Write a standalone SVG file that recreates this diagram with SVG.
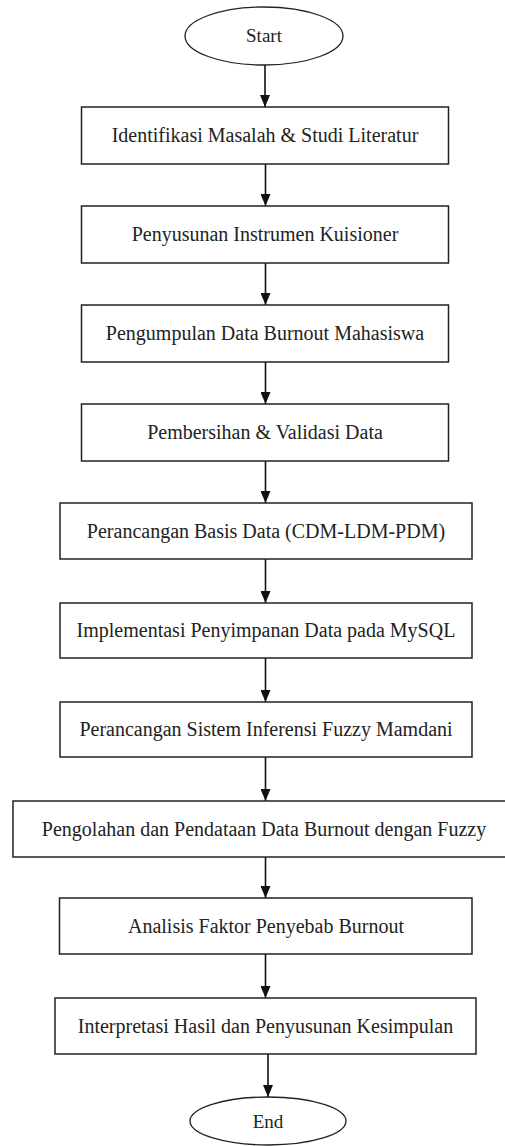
<svg xmlns="http://www.w3.org/2000/svg" width="505" height="1146" viewBox="0 0 505 1146">
<defs>
<style>
.box{fill:#fff;stroke:#222;stroke-width:1.5}
.term{fill:#fff;stroke:#222;stroke-width:1.3}
.lbl{font-family:"Liberation Serif","Times New Roman",serif;font-size:20px;fill:#222;text-anchor:middle}
.edge{stroke:#111;stroke-width:1.6;fill:none;marker-end:url(#arr)}
</style>
<marker id="arr" viewBox="0 0 12 10" refX="12" refY="5" markerWidth="12" markerHeight="10" markerUnits="userSpaceOnUse" orient="auto">
<path d="M0,0 L12,5 L0,10 z" fill="#111"/>
</marker>
</defs>
<rect width="505" height="1146" fill="#fff"/>
<g id="connectors">
<line class="edge" x1="265" y1="65" x2="265" y2="107"/>
<line class="edge" x1="265.5" y1="164" x2="265.5" y2="206"/>
<line class="edge" x1="265.5" y1="263" x2="265.5" y2="305"/>
<line class="edge" x1="265.5" y1="362" x2="265.5" y2="404"/>
<line class="edge" x1="265.5" y1="461" x2="265.5" y2="503"/>
<line class="edge" x1="265.5" y1="559" x2="265.5" y2="603"/>
<line class="edge" x1="265.5" y1="658" x2="265.5" y2="702"/>
<line class="edge" x1="265.5" y1="757" x2="265.5" y2="801"/>
<line class="edge" x1="265.5" y1="857" x2="265.5" y2="898"/>
<line class="edge" x1="265.5" y1="954" x2="265.5" y2="998"/>
<line class="edge" x1="268" y1="1054" x2="268" y2="1097"/>
</g>
<g id="start"><ellipse class="term" cx="264" cy="36" rx="79" ry="29"/><text class="lbl" x="264" y="42" style="font-size:19px">Start</text></g>
<g id="n1"><rect class="box" x="81.5" y="107" width="367" height="57"/><text class="lbl" x="265" y="142">Identifikasi Masalah &amp; Studi Literatur</text></g>
<g id="n2"><rect class="box" x="81.5" y="206" width="367" height="57"/><text class="lbl" x="265" y="241">Penyusunan Instrumen Kuisioner</text></g>
<g id="n3"><rect class="box" x="81.5" y="305" width="367" height="57"/><text class="lbl" x="265" y="340">Pengumpulan Data Burnout Mahasiswa</text></g>
<g id="n4"><rect class="box" x="81.5" y="404" width="367" height="57"/><text class="lbl" x="265" y="439">Pembersihan &amp; Validasi Data</text></g>
<g id="n5"><rect class="box" x="60" y="503" width="412" height="56"/><text class="lbl" x="266" y="538">Perancangan Basis Data (CDM-LDM-PDM)</text></g>
<g id="n6"><rect class="box" x="60" y="603" width="412" height="55"/><text class="lbl" x="266" y="637">Implementasi Penyimpanan Data pada MySQL</text></g>
<g id="n7"><rect class="box" x="60" y="702" width="412" height="55"/><text class="lbl" x="266" y="736">Perancangan Sistem Inferensi Fuzzy Mamdani</text></g>
<g id="n8"><rect class="box" x="13" y="801" width="504" height="56"/><text class="lbl" x="264" y="836">Pengolahan dan Pendataan Data Burnout dengan Fuzzy</text></g>
<g id="n9"><rect class="box" x="59.5" y="898" width="412.5" height="56"/><text class="lbl" x="266" y="933">Analisis Faktor Penyebab Burnout</text></g>
<g id="n10"><rect class="box" x="55" y="998" width="421" height="56"/><text class="lbl" x="265.5" y="1033">Interpretasi Hasil dan Penyusunan Kesimpulan</text></g>
<g id="end"><ellipse class="term" cx="268" cy="1121" rx="78" ry="24"/><text class="lbl" x="268" y="1128" style="font-size:19px">End</text></g>
</svg>
